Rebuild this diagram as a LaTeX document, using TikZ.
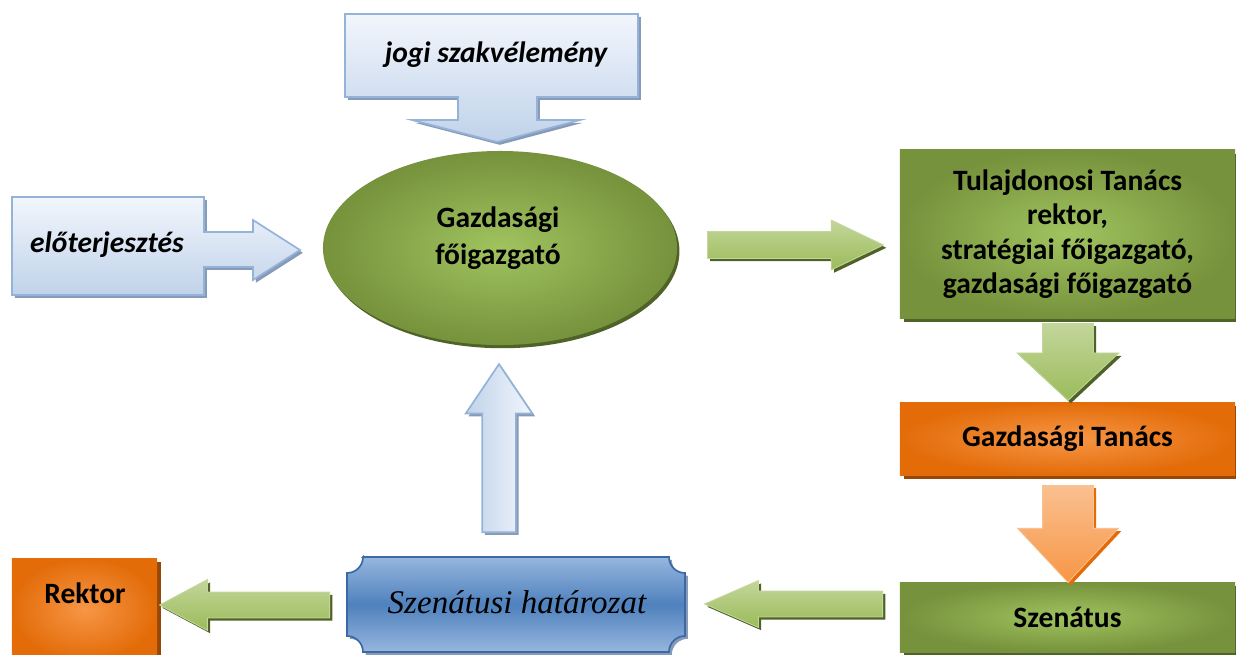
\documentclass[tikz,border=0pt]{standalone}
\usepackage{fontspec}
\setmainfont{Carlito}
\newfontfamily\platefont{Liberation Serif}
\usetikzlibrary{shapes.geometric,shapes.arrows,shadows,positioning,calc}

\definecolor{ugyBlueLight}{RGB}{242,246,252}
\definecolor{ugyBlueDark}{RGB}{192,210,234}
\definecolor{ugyBlueLine}{RGB}{149,179,215}
\definecolor{ugyBlueShadow}{RGB}{135,155,185}
\definecolor{ugyPlateMid}{RGB}{79,129,189}
\definecolor{ugyPlateLight}{RGB}{150,182,222}
\definecolor{ugyPlateLine}{RGB}{60,105,165}
\definecolor{ugyGreen}{RGB}{118,146,60}
\definecolor{ugyGreenLight}{RGB}{160,195,95}
\definecolor{ugyGreenShadow}{RGB}{79,98,40}
\definecolor{ugyArrowLight}{RGB}{195,214,155}
\definecolor{ugyArrowMid}{RGB}{155,187,89}
\definecolor{ugyOrange}{RGB}{227,108,9}
\definecolor{ugyOrangeLight}{RGB}{247,150,70}
\definecolor{ugyOrangeShadow}{RGB}{152,72,6}
\definecolor{ugyOrangePale}{RGB}{250,192,144}

\begin{document}
\begin{tikzpicture}[x=0.025cm, y=0.025cm,
    txt/.style={font=\fontsize{21}{24.5}\selectfont\bfseries, align=center, inner sep=0pt},
    itxt/.style={font=\fontsize{21}{24.5}\selectfont\bfseries\itshape, inner sep=0pt},
    callout/.style={draw=ugyBlueLine, line width=1.2pt, top color=ugyBlueLight, bottom color=ugyBlueDark,
        drop shadow={shadow xshift=0.07cm, shadow yshift=-0.07cm, fill=ugyBlueShadow, opacity=1}},
    greenbox/.style={rectangle, inner sep=0pt, minimum width=8.375cm, shading=radial,
        inner color=ugyGreenLight, outer color=ugyGreen,
        drop shadow={shadow xshift=0.09cm, shadow yshift=-0.09cm, fill=ugyGreenShadow, opacity=1}},
    orangebox/.style={rectangle, inner sep=0pt, minimum width=8.375cm, shading=radial,
        inner color=ugyOrangeLight, outer color=ugyOrange,
        drop shadow={shadow xshift=0.09cm, shadow yshift=-0.09cm, fill=ugyOrangeShadow, opacity=1}},
    blockarrow/.style={single arrow, anchor=tail},
    greenarrow/.style={blockarrow, draw=ugyArrowLight, line width=0.6pt,
        top color=ugyArrowLight, bottom color=ugyArrowMid,
        drop shadow={shadow xshift=0.07cm, shadow yshift=-0.07cm, fill=ugyGreenShadow, opacity=1}}
  ]
  \useasboundingbox (0,0) rectangle (1236,-654);
  \clip (0,0) rectangle (1236,-654);

  % blue callouts
  \path[callout] (345,-14) -- (638,-14) -- (638,-97) -- (537,-97) -- (537,-120) -- (580,-120)
    -- (497,-142) -- (412,-120) -- (458,-120) -- (458,-97) -- (345,-97) -- cycle;
  \node[itxt] (jogi) at (496,-55) {jogi szakvélemény};

  \path[callout] (12,-197) -- (204,-197) -- (204,-232) -- (253,-232) -- (253,-220) -- (300,-250)
    -- (253,-280) -- (253,-267) -- (204,-267) -- (204,-295) -- (12,-295) -- cycle;
  \node[itxt] (eloter) at (107,-245) {előterjesztés};

  % main ellipse
  \node[ellipse, minimum width=8.85cm, minimum height=4.85cm, shading=radial,
        inner color=ugyGreenLight, outer color=ugyGreen,
        drop shadow={shadow xshift=0.06cm, shadow yshift=-0.08cm, fill=ugyGreenShadow, opacity=1}]
        (gf) at (500,-248) {};
  \node[txt, font=\fontsize{21}{26}\selectfont\bfseries] (gfname) at (498,-238) {Gazdasági\\főigazgató};

  % right column
  \node[greenbox, minimum height=4.2cm, txt] (tul) at (1067.5,-234)
    {Tulajdonosi Tanács\\rektor,\\stratégiai főigazgató,\\gazdasági főigazgató};
  \node[orangebox, minimum height=1.825cm, txt] (gt) at (1067.5,-438.5) {Gazdasági Tanács};
  \node[greenbox, minimum height=1.75cm, txt] (szen) at (1067.5,-617) {Szenátus};

  % decision plate
  \path[draw=ugyPlateLine, line width=1.2pt, top color=ugyPlateLight, bottom color=ugyPlateLight,
        middle color=ugyPlateMid,
        drop shadow={shadow xshift=0.07cm, shadow yshift=-0.07cm, fill=ugyBlueShadow, opacity=1}]
    (363,-557) -- (669,-557) arc[start angle=180, end angle=270, radius=0.4cm]
    -- (685,-636) arc[start angle=90, end angle=180, radius=0.4cm]
    -- (363,-652) arc[start angle=0, end angle=90, radius=0.4cm]
    -- (347,-573) arc[start angle=270, end angle=360, radius=0.4cm] -- cycle;
  \node[font=\fontsize{23.5}{28}\selectfont\platefont\itshape, inner sep=0pt] (hat) at (517,-602)
    {Szenátusi határozat};

  \node[orangebox, minimum width=3.625cm, minimum height=2.55cm] (rektor) at (84.5,-609) {};
  \node[txt] (rektortxt) at (85,-593) {Rektor};

  % block arrows
  \node[greenarrow, inner sep=0.325cm, minimum height=4.4cm,
        single arrow head extend=0.2875cm, single arrow tip angle=51] (a1) at (707,-245) {};
  \node[greenarrow, shape border rotate=270, inner sep=0.625cm, minimum height=1.925cm,
        single arrow head extend=0.6375cm, single arrow tip angle=94] (a2) at (1068,-323) {};
  \node[blockarrow, shape border rotate=270, inner sep=0.625cm, minimum height=2.425cm,
        single arrow head extend=0.625cm, single arrow tip angle=86,
        draw=ugyOrangePale, line width=0.6pt, top color=ugyOrangePale, bottom color=ugyOrangeLight,
        drop shadow={shadow xshift=0.07cm, shadow yshift=-0.07cm, fill=ugyOrange, opacity=1}]
        (a3) at (1068,-485) {};
  \node[greenarrow, shape border rotate=180, inner sep=0.3125cm, minimum height=4.45cm,
        single arrow head extend=0.2625cm, single arrow tip angle=47] (a4) at (883,-604) {};
  \node[greenarrow, shape border rotate=180, inner sep=0.3125cm, minimum height=4.25cm,
        single arrow head extend=0.3125cm, single arrow tip angle=56] (a5) at (330,-605) {};
  \node[blockarrow, shape border rotate=90, inner sep=0.4cm, minimum height=4.2cm,
        single arrow head extend=0.4125cm, single arrow tip angle=68,
        draw=ugyBlueLine, line width=1.2pt, left color=ugyBlueDark, right color=ugyBlueLight,
        drop shadow={shadow xshift=0.07cm, shadow yshift=-0.07cm, fill=ugyBlueShadow, opacity=1}]
        (a6) at (499,-533) {};
\end{tikzpicture}
\end{document}
